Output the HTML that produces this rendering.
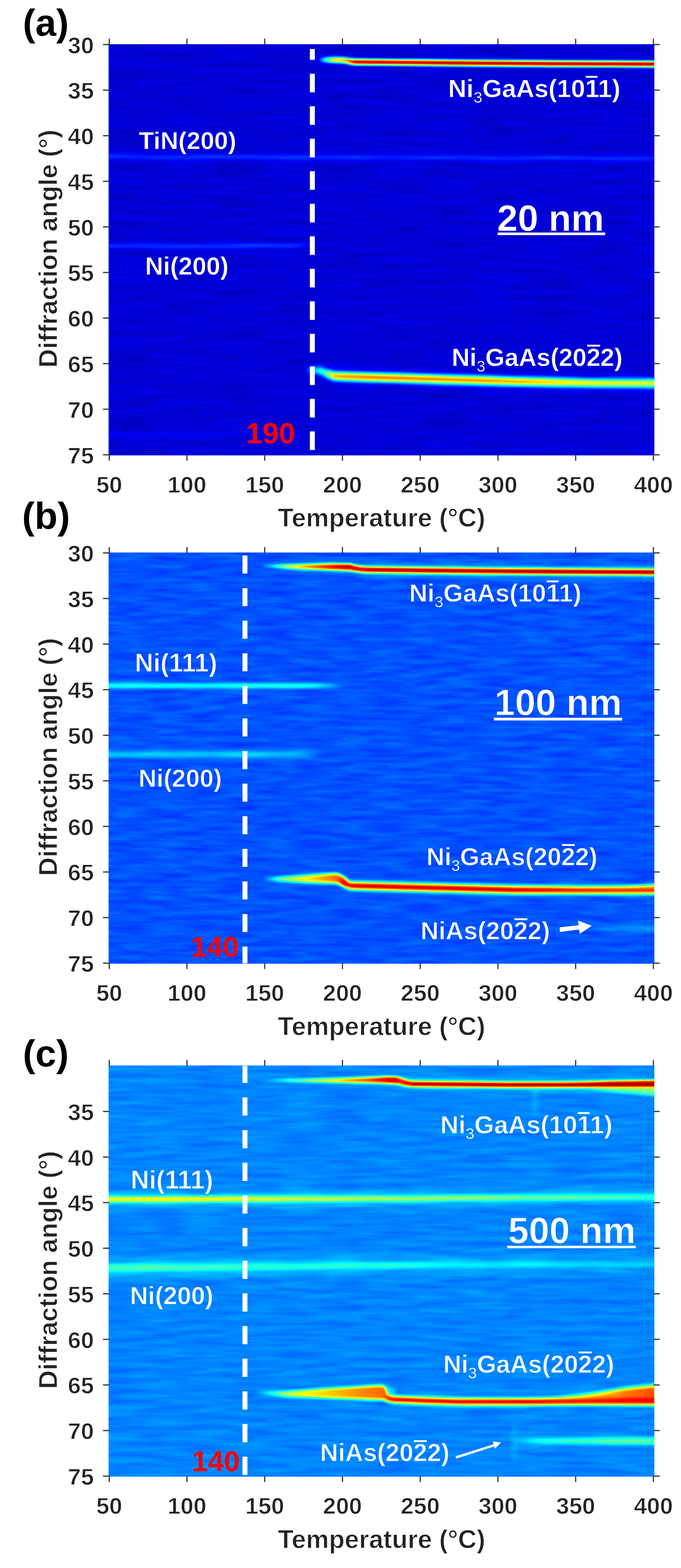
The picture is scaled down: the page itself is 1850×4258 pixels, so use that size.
<!DOCTYPE html><html><head><meta charset="utf-8"><title>XRD heatmaps</title><style>
html,body{margin:0;padding:0;background:#fff;}body{width:1850px;height:4258px;overflow:hidden;}
svg{display:block;}text{font-family:'Liberation Sans', Arial, Helvetica, sans-serif;font-weight:bold;}
</style></head><body>
<svg width="1850" height="4258" viewBox="0 0 1850 4258">
<defs>
<filter id="jet" x="0" y="0" width="1" height="1" color-interpolation-filters="sRGB"><feComponentTransfer><feFuncR type="table" tableValues="0 0 0 0 0.5 1 1 1 0.5"/><feFuncG type="table" tableValues="0 0 0.5 1 1 1 0.5 0 0"/><feFuncB type="table" tableValues="0.5 1 1 1 0.5 0 0 0 0"/></feComponentTransfer></filter>
</defs>
<defs><linearGradient id="g1" gradientUnits="userSpaceOnUse" x1="275" y1="0" x2="1800" y2="0"><stop offset="0.0000" stop-color="#fff" stop-opacity="0.177"/><stop offset="0.4754" stop-color="#fff" stop-opacity="0.166"/><stop offset="1.0000" stop-color="#fff" stop-opacity="0.166"/></linearGradient></defs>
<defs><linearGradient id="g3" gradientUnits="userSpaceOnUse" x1="275" y1="0" x2="850" y2="0"><stop offset="0.0000" stop-color="#fff" stop-opacity="0.188"/><stop offset="0.9130" stop-color="#fff" stop-opacity="0.177"/><stop offset="1.0000" stop-color="#fff" stop-opacity="0.000"/></linearGradient></defs>
<defs><linearGradient id="g5" gradientUnits="userSpaceOnUse" x1="275" y1="0" x2="840" y2="0"><stop offset="0.0000" stop-color="#fff" stop-opacity="0.100"/><stop offset="0.9292" stop-color="#fff" stop-opacity="0.100"/><stop offset="1.0000" stop-color="#fff" stop-opacity="0.000"/></linearGradient></defs>
<defs><linearGradient id="g7" gradientUnits="userSpaceOnUse" x1="864" y1="0" x2="1800" y2="0"><stop offset="0.0000" stop-color="#fff" stop-opacity="0.000"/><stop offset="0.0021" stop-color="#fff" stop-opacity="0.038"/><stop offset="0.0139" stop-color="#fff" stop-opacity="0.249"/><stop offset="0.0224" stop-color="#fff" stop-opacity="0.377"/><stop offset="0.0331" stop-color="#fff" stop-opacity="0.538"/><stop offset="0.0438" stop-color="#fff" stop-opacity="0.622"/><stop offset="0.0491" stop-color="#fff" stop-opacity="0.665"/><stop offset="0.0759" stop-color="#fff" stop-opacity="0.688"/><stop offset="0.0897" stop-color="#fff" stop-opacity="0.808"/><stop offset="0.0919" stop-color="#fff" stop-opacity="0.827"/><stop offset="0.1047" stop-color="#fff" stop-opacity="0.947"/><stop offset="0.1079" stop-color="#fff" stop-opacity="0.977"/><stop offset="0.2521" stop-color="#fff" stop-opacity="0.981"/><stop offset="0.4658" stop-color="#fff" stop-opacity="0.986"/><stop offset="0.6795" stop-color="#fff" stop-opacity="0.992"/><stop offset="1.0000" stop-color="#fff" stop-opacity="1.000"/></linearGradient></defs>
<defs><linearGradient id="g9" gradientUnits="userSpaceOnUse" x1="826" y1="0" x2="1800" y2="0"><stop offset="0.0000" stop-color="#fff" stop-opacity="0.000"/><stop offset="0.0041" stop-color="#fff" stop-opacity="0.088"/><stop offset="0.0195" stop-color="#fff" stop-opacity="0.350"/><stop offset="0.0298" stop-color="#fff" stop-opacity="0.443"/><stop offset="0.0400" stop-color="#fff" stop-opacity="0.532"/><stop offset="0.0472" stop-color="#fff" stop-opacity="0.552"/><stop offset="0.0606" stop-color="#fff" stop-opacity="0.589"/><stop offset="0.0657" stop-color="#fff" stop-opacity="0.661"/><stop offset="0.0821" stop-color="#fff" stop-opacity="0.937"/><stop offset="0.1786" stop-color="#fff" stop-opacity="1.000"/><stop offset="0.2146" stop-color="#fff" stop-opacity="0.996"/><stop offset="0.4867" stop-color="#fff" stop-opacity="0.969"/><stop offset="0.5893" stop-color="#fff" stop-opacity="0.916"/><stop offset="0.6407" stop-color="#fff" stop-opacity="0.890"/><stop offset="0.7947" stop-color="#fff" stop-opacity="0.780"/><stop offset="1.0000" stop-color="#fff" stop-opacity="0.748"/></linearGradient></defs>
<defs><linearGradient id="g11" gradientUnits="userSpaceOnUse" x1="880" y1="0" x2="1800" y2="0"><stop offset="0.0000" stop-color="#fff" stop-opacity="0.000"/><stop offset="0.0283" stop-color="#fff" stop-opacity="0.140"/><stop offset="0.0435" stop-color="#fff" stop-opacity="0.215"/><stop offset="0.5652" stop-color="#fff" stop-opacity="0.215"/><stop offset="1.0000" stop-color="#fff" stop-opacity="0.215"/></linearGradient></defs>
<defs><filter id="na" x="0" y="0" width="1" height="1" color-interpolation-filters="sRGB"><feTurbulence type="fractalNoise" baseFrequency="0.007 0.07" numOctaves="4" seed="3"/><feColorMatrix type="matrix" values="0.06 0 0 0 0.055  0.06 0 0 0 0.055  0.06 0 0 0 0.055  0 0 0 0 1"/></filter><clipPath id="clipa"><rect x="295" y="120" width="1482.5" height="1116.5"/></clipPath></defs>
<g filter="url(#jet)"><g clip-path="url(#clipa)">
<rect x="295" y="120" width="1482.5" height="1116.5" fill="rgb(22,22,22)"/>
<rect x="295" y="120" width="1482.5" height="1116.5" filter="url(#na)"/>
<defs><filter id="f2" filterUnits="userSpaceOnUse" x="249" y="396" width="1577" height="65" color-interpolation-filters="sRGB"><feGaussianBlur stdDeviation="6"/><feComponentTransfer><feFuncA type="linear" slope="1.0000"/></feComponentTransfer></filter></defs>
<path d="M275.0,421.5 L1000.0,424.0 L1800.0,426.5 L1800.0,434.5 L1000.0,432.0 L275.0,429.5 Z" fill="url(#g1)" filter="url(#f2)"/>
<defs><filter id="f4" filterUnits="userSpaceOnUse" x="249" y="638" width="627" height="60" color-interpolation-filters="sRGB"><feGaussianBlur stdDeviation="6"/><feComponentTransfer><feFuncA type="linear" slope="1.0000"/></feComponentTransfer></filter></defs>
<path d="M275.0,663.7 L850.0,663.7 L850.0,671.7 L275.0,671.7 Z" fill="url(#g3)" filter="url(#f4)"/>
<defs><filter id="f6" filterUnits="userSpaceOnUse" x="257" y="1160" width="601" height="40" color-interpolation-filters="sRGB"><feGaussianBlur stdDeviation="4"/><feComponentTransfer><feFuncA type="linear" slope="1.0000"/></feComponentTransfer></filter></defs>
<path d="M275.0,1178.0 L840.0,1178.0 L840.0,1182.0 L275.0,1182.0 Z" fill="url(#g5)" filter="url(#f6)"/>
<defs><filter id="f8" filterUnits="userSpaceOnUse" x="841" y="136" width="984" height="65" color-interpolation-filters="sRGB"><feGaussianBlur stdDeviation="5.7"/><feComponentTransfer><feFuncA type="linear" slope="3.4462"/></feComponentTransfer></filter></defs>
<path d="M866.0,160.5 L885.0,160.5 L905.0,160.8 L935.0,161.5 L948.0,164.0 L962.0,166.3 L1100.0,167.5 L1300.0,169.6 L1500.0,171.0 L1800.0,172.0 L1800.0,176.0 L1500.0,175.0 L1300.0,173.6 L1100.0,171.5 L962.0,170.3 L948.0,168.0 L935.0,165.5 L905.0,164.8 L885.0,164.5 L866.0,164.5 Z" fill="url(#g7)" filter="url(#f8)"/>
<defs><filter id="f10" filterUnits="userSpaceOnUse" x="796" y="967" width="1038" height="113" color-interpolation-filters="sRGB"><feGaussianBlur stdDeviation="8"/><feComponentTransfer><feFuncA type="linear" slope="1.4828"/></feComponentTransfer></filter></defs>
<path d="M830.0,1002.0 L855.0,1001.0 L872.0,1002.5 L890.0,1010.0 L906.0,1016.5 L1035.0,1020.5 L1300.0,1028.0 L1400.0,1030.8 L1600.0,1035.3 L1800.0,1036.0 L1800.0,1046.0 L1600.0,1045.3 L1400.0,1040.8 L1300.0,1038.0 L1035.0,1030.5 L906.0,1026.5 L890.0,1020.0 L872.0,1011.5 L855.0,1009.0 L830.0,1008.0 Z" fill="url(#g9)" filter="url(#f10)"/>
<defs><filter id="f12" filterUnits="userSpaceOnUse" x="822" y="947" width="1036" height="157" color-interpolation-filters="sRGB"><feGaussianBlur stdDeviation="14"/><feComponentTransfer><feFuncA type="linear" slope="1.0000"/></feComponentTransfer></filter></defs>
<path d="M880.0,1005.0 L906.0,1016.5 L1400.0,1030.8 L1800.0,1036.0 L1800.0,1046.0 L1400.0,1040.8 L906.0,1026.5 L880.0,1015.0 Z" fill="url(#g11)" filter="url(#f12)"/>
</g></g>
<defs><linearGradient id="g13" gradientUnits="userSpaceOnUse" x1="710" y1="0" x2="1002" y2="0"><stop offset="0.0000" stop-color="#fff" stop-opacity="0.000"/><stop offset="0.0411" stop-color="#fff" stop-opacity="0.230"/><stop offset="0.1712" stop-color="#fff" stop-opacity="0.438"/><stop offset="0.3082" stop-color="#fff" stop-opacity="0.587"/><stop offset="0.5137" stop-color="#fff" stop-opacity="0.735"/><stop offset="0.7534" stop-color="#fff" stop-opacity="0.884"/><stop offset="0.8459" stop-color="#fff" stop-opacity="0.928"/><stop offset="0.9075" stop-color="#fff" stop-opacity="0.809"/><stop offset="0.9589" stop-color="#fff" stop-opacity="0.512"/><stop offset="1.0000" stop-color="#fff" stop-opacity="0.000"/></linearGradient></defs>
<defs><filter id="bl3_5" x="-50%" y="-50%" width="200%" height="200%" color-interpolation-filters="sRGB"><feGaussianBlur stdDeviation="3.5"/></filter></defs>
<defs><linearGradient id="g14" gradientUnits="userSpaceOnUse" x1="960" y1="0" x2="1800" y2="0"><stop offset="0.0000" stop-color="#fff" stop-opacity="0.000"/><stop offset="0.0179" stop-color="#fff" stop-opacity="0.463"/><stop offset="0.0381" stop-color="#fff" stop-opacity="0.906"/><stop offset="0.0393" stop-color="#fff" stop-opacity="0.912"/><stop offset="0.0536" stop-color="#fff" stop-opacity="0.987"/><stop offset="0.2262" stop-color="#fff" stop-opacity="0.989"/><stop offset="0.5238" stop-color="#fff" stop-opacity="0.993"/><stop offset="1.0000" stop-color="#fff" stop-opacity="1.000"/></linearGradient></defs>
<defs><linearGradient id="g16" gradientUnits="userSpaceOnUse" x1="740" y1="0" x2="1800" y2="0"><stop offset="0.0000" stop-color="#fff" stop-opacity="0.000"/><stop offset="0.0189" stop-color="#fff" stop-opacity="0.048"/><stop offset="0.1132" stop-color="#fff" stop-opacity="0.286"/><stop offset="0.1509" stop-color="#fff" stop-opacity="0.334"/><stop offset="0.2358" stop-color="#fff" stop-opacity="0.442"/><stop offset="0.2387" stop-color="#fff" stop-opacity="0.442"/><stop offset="0.6226" stop-color="#fff" stop-opacity="0.442"/><stop offset="1.0000" stop-color="#fff" stop-opacity="0.442"/></linearGradient></defs>
<defs><linearGradient id="g18" gradientUnits="userSpaceOnUse" x1="275" y1="0" x2="930" y2="0"><stop offset="0.0000" stop-color="#fff" stop-opacity="0.546"/><stop offset="0.8321" stop-color="#fff" stop-opacity="0.546"/><stop offset="0.9237" stop-color="#fff" stop-opacity="0.410"/><stop offset="1.0000" stop-color="#fff" stop-opacity="0.000"/></linearGradient></defs>
<defs><linearGradient id="g20" gradientUnits="userSpaceOnUse" x1="275" y1="0" x2="870" y2="0"><stop offset="0.0000" stop-color="#fff" stop-opacity="0.276"/><stop offset="0.8824" stop-color="#fff" stop-opacity="0.276"/><stop offset="1.0000" stop-color="#fff" stop-opacity="0.000"/></linearGradient></defs>
<defs><linearGradient id="g22" gradientUnits="userSpaceOnUse" x1="710" y1="0" x2="945" y2="0"><stop offset="0.0000" stop-color="#fff" stop-opacity="0.000"/><stop offset="0.0511" stop-color="#fff" stop-opacity="0.171"/><stop offset="0.1957" stop-color="#fff" stop-opacity="0.399"/><stop offset="0.5106" stop-color="#fff" stop-opacity="0.550"/><stop offset="0.8085" stop-color="#fff" stop-opacity="0.690"/><stop offset="0.8766" stop-color="#fff" stop-opacity="0.728"/><stop offset="0.9574" stop-color="#fff" stop-opacity="0.753"/><stop offset="1.0000" stop-color="#fff" stop-opacity="0.500"/></linearGradient></defs>
<defs><filter id="bl4" x="-50%" y="-50%" width="200%" height="200%" color-interpolation-filters="sRGB"><feGaussianBlur stdDeviation="4"/></filter></defs>
<defs><linearGradient id="g23" gradientUnits="userSpaceOnUse" x1="920" y1="0" x2="1800" y2="0"><stop offset="0.0000" stop-color="#fff" stop-opacity="0.725"/><stop offset="0.0057" stop-color="#fff" stop-opacity="0.946"/><stop offset="0.0227" stop-color="#fff" stop-opacity="1.000"/><stop offset="0.0341" stop-color="#fff" stop-opacity="0.838"/><stop offset="0.0568" stop-color="#fff" stop-opacity="0.858"/><stop offset="0.2614" stop-color="#fff" stop-opacity="0.813"/><stop offset="0.5455" stop-color="#fff" stop-opacity="0.806"/><stop offset="0.7500" stop-color="#fff" stop-opacity="0.741"/><stop offset="0.7727" stop-color="#fff" stop-opacity="0.731"/><stop offset="1.0000" stop-color="#fff" stop-opacity="0.677"/></linearGradient></defs>
<defs><linearGradient id="g25" gradientUnits="userSpaceOnUse" x1="1680" y1="0" x2="1800" y2="0"><stop offset="0.0000" stop-color="#fff" stop-opacity="0.000"/><stop offset="1.0000" stop-color="#fff" stop-opacity="0.644"/></linearGradient></defs>
<defs><filter id="bl5" x="-50%" y="-50%" width="200%" height="200%" color-interpolation-filters="sRGB"><feGaussianBlur stdDeviation="5"/></filter></defs>
<defs><linearGradient id="g26" gradientUnits="userSpaceOnUse" x1="1590" y1="0" x2="1800" y2="0"><stop offset="0.0000" stop-color="#fff" stop-opacity="0.000"/><stop offset="0.2857" stop-color="#fff" stop-opacity="0.155"/><stop offset="0.5238" stop-color="#fff" stop-opacity="0.157"/><stop offset="1.0000" stop-color="#fff" stop-opacity="0.191"/></linearGradient></defs>
<defs><filter id="nb" x="0" y="0" width="1" height="1" color-interpolation-filters="sRGB"><feTurbulence type="fractalNoise" baseFrequency="0.01 0.07" numOctaves="3" seed="7"/><feColorMatrix type="matrix" values="0.085 0 0 0 0.1625  0.085 0 0 0 0.1625  0.085 0 0 0 0.1625  0 0 0 0 1"/></filter><clipPath id="clipb"><rect x="295" y="1500.5" width="1482.5" height="1116.5"/></clipPath></defs>
<g filter="url(#jet)"><g clip-path="url(#clipb)">
<rect x="295" y="1500.5" width="1482.5" height="1116.5" fill="rgb(52,52,52)"/>
<rect x="295" y="1500.5" width="1482.5" height="1116.5" filter="url(#nb)"/>
<path d="M714.0,1536.0 L740.0,1535.0 L778.0,1533.5 L860.0,1532.0 L903.0,1531.0 L950.0,1531.5 L965.0,1536.0 L985.0,1541.0 L1002.0,1543.5 L1002.0,1551.0 L985.0,1552.0 L965.0,1551.0 L950.0,1548.5 L903.0,1547.5 L860.0,1546.0 L778.0,1543.0 L740.0,1540.0 L714.0,1538.0 Z" fill="url(#g13)" filter="url(#bl3_5)"/>
<defs><filter id="f15" filterUnits="userSpaceOnUse" x="925" y="1513" width="900" height="68" color-interpolation-filters="sRGB"><feGaussianBlur stdDeviation="5.8"/><feComponentTransfer><feFuncA type="linear" slope="2.8094"/></feComponentTransfer></filter></defs>
<path d="M950.0,1538.5 L975.0,1542.5 L993.0,1544.5 L1150.0,1546.5 L1400.0,1549.0 L1800.0,1551.5 L1800.0,1556.5 L1400.0,1554.0 L1150.0,1551.5 L993.0,1549.5 L975.0,1547.5 L950.0,1543.5 Z" fill="url(#g14)" filter="url(#f15)"/>
<defs><filter id="f17" filterUnits="userSpaceOnUse" x="706" y="1480" width="1148" height="132" color-interpolation-filters="sRGB"><feGaussianBlur stdDeviation="13"/><feComponentTransfer><feFuncA type="linear" slope="1.0000"/></feComponentTransfer></filter></defs>
<path d="M760.0,1534.0 L900.0,1535.5 L993.0,1543.0 L1400.0,1547.5 L1800.0,1550.0 L1800.0,1558.0 L1400.0,1555.5 L993.0,1551.0 L900.0,1543.5 L760.0,1542.0 Z" fill="url(#g16)" filter="url(#f17)"/>
<defs><filter id="f19" filterUnits="userSpaceOnUse" x="251" y="1835" width="703" height="54" color-interpolation-filters="sRGB"><feGaussianBlur stdDeviation="5.5"/><feComponentTransfer><feFuncA type="linear" slope="1.0000"/></feComponentTransfer></filter></defs>
<path d="M275.0,1859.0 L930.0,1859.0 L930.0,1865.0 L275.0,1865.0 Z" fill="url(#g18)" filter="url(#f19)"/>
<defs><filter id="f21" filterUnits="userSpaceOnUse" x="245" y="2014" width="655" height="70" color-interpolation-filters="sRGB"><feGaussianBlur stdDeviation="7"/><feComponentTransfer><feFuncA type="linear" slope="1.0000"/></feComponentTransfer></filter></defs>
<path d="M275.0,2043.5 L870.0,2043.5 L870.0,2053.5 L275.0,2053.5 Z" fill="url(#g20)" filter="url(#f21)"/>
<path d="M714.0,2386.0 L740.0,2384.0 L770.0,2381.0 L830.0,2377.0 L903.0,2372.0 L916.0,2372.0 L930.0,2378.0 L945.0,2392.0 L945.0,2410.0 L930.0,2403.0 L916.0,2399.0 L903.0,2398.0 L830.0,2397.0 L770.0,2394.0 L740.0,2391.0 L714.0,2388.0 Z" fill="url(#g22)" filter="url(#bl4)"/>
<defs><filter id="f24" filterUnits="userSpaceOnUse" x="895" y="2360" width="935" height="95" color-interpolation-filters="sRGB"><feGaussianBlur stdDeviation="7"/><feComponentTransfer><feFuncA type="linear" slope="1.5436"/></feComponentTransfer></filter></defs>
<path d="M925.0,2390.0 L950.0,2398.5 L1150.0,2403.2 L1400.0,2409.5 L1580.0,2410.5 L1800.0,2410.0 L1800.0,2425.0 L1580.0,2424.5 L1400.0,2423.5 L1150.0,2417.2 L950.0,2411.5 L925.0,2396.0 Z" fill="url(#g23)" filter="url(#f24)"/>
<path d="M1680.0,2410.0 L1800.0,2402.0 L1800.0,2412.0 L1680.0,2412.0 Z" fill="url(#g25)" filter="url(#bl5)"/>
<defs><filter id="f27" filterUnits="userSpaceOnUse" x="1564" y="2491" width="262" height="60" color-interpolation-filters="sRGB"><feGaussianBlur stdDeviation="6"/><feComponentTransfer><feFuncA type="linear" slope="1.0000"/></feComponentTransfer></filter></defs>
<path d="M1590.0,2518.0 L1700.0,2517.0 L1800.0,2517.0 L1800.0,2525.0 L1700.0,2525.0 L1590.0,2524.0 Z" fill="url(#g26)" filter="url(#f27)"/>
</g></g>
<defs><linearGradient id="g28" gradientUnits="userSpaceOnUse" x1="700" y1="0" x2="1120" y2="0"><stop offset="0.0000" stop-color="#fff" stop-opacity="0.000"/><stop offset="0.0476" stop-color="#fff" stop-opacity="0.156"/><stop offset="0.2095" stop-color="#fff" stop-opacity="0.393"/><stop offset="0.4762" stop-color="#fff" stop-opacity="0.571"/><stop offset="0.7143" stop-color="#fff" stop-opacity="0.749"/><stop offset="0.8333" stop-color="#fff" stop-opacity="0.868"/><stop offset="0.8976" stop-color="#fff" stop-opacity="0.898"/><stop offset="0.9524" stop-color="#fff" stop-opacity="0.660"/><stop offset="1.0000" stop-color="#fff" stop-opacity="0.067"/></linearGradient></defs>
<defs><filter id="bl3_6" x="-50%" y="-50%" width="200%" height="200%" color-interpolation-filters="sRGB"><feGaussianBlur stdDeviation="3.6"/></filter></defs>
<defs><linearGradient id="g29" gradientUnits="userSpaceOnUse" x1="1085" y1="0" x2="1800" y2="0"><stop offset="0.0000" stop-color="#fff" stop-opacity="0.066"/><stop offset="0.0280" stop-color="#fff" stop-opacity="0.796"/><stop offset="0.0462" stop-color="#fff" stop-opacity="0.919"/><stop offset="0.0559" stop-color="#fff" stop-opacity="0.985"/><stop offset="0.2308" stop-color="#fff" stop-opacity="0.988"/><stop offset="0.4406" stop-color="#fff" stop-opacity="0.991"/><stop offset="0.9021" stop-color="#fff" stop-opacity="0.998"/><stop offset="1.0000" stop-color="#fff" stop-opacity="1.000"/></linearGradient></defs>
<defs><linearGradient id="g31" gradientUnits="userSpaceOnUse" x1="1060" y1="0" x2="1800" y2="0"><stop offset="0.0000" stop-color="#fff" stop-opacity="0.000"/><stop offset="0.0135" stop-color="#fff" stop-opacity="0.078"/><stop offset="0.0541" stop-color="#fff" stop-opacity="0.312"/><stop offset="0.4595" stop-color="#fff" stop-opacity="0.329"/><stop offset="1.0000" stop-color="#fff" stop-opacity="0.353"/></linearGradient></defs>
<defs><linearGradient id="g33" gradientUnits="userSpaceOnUse" x1="1540" y1="0" x2="1800" y2="0"><stop offset="0.0000" stop-color="#fff" stop-opacity="0.110"/><stop offset="0.4231" stop-color="#fff" stop-opacity="0.847"/><stop offset="1.0000" stop-color="#fff" stop-opacity="1.000"/></linearGradient></defs>
<defs><linearGradient id="g34" gradientUnits="userSpaceOnUse" x1="1560" y1="0" x2="1800" y2="0"><stop offset="0.0000" stop-color="#fff" stop-opacity="0.007"/><stop offset="0.3750" stop-color="#fff" stop-opacity="0.288"/><stop offset="1.0000" stop-color="#fff" stop-opacity="0.345"/></linearGradient></defs>
<defs><linearGradient id="g35" gradientUnits="userSpaceOnUse" x1="275" y1="0" x2="1800" y2="0"><stop offset="0.0000" stop-color="#fff" stop-opacity="0.443"/><stop offset="0.1475" stop-color="#fff" stop-opacity="0.443"/><stop offset="0.3443" stop-color="#fff" stop-opacity="0.373"/><stop offset="0.5082" stop-color="#fff" stop-opacity="0.316"/><stop offset="0.7377" stop-color="#fff" stop-opacity="0.246"/><stop offset="0.9344" stop-color="#fff" stop-opacity="0.190"/><stop offset="1.0000" stop-color="#fff" stop-opacity="0.162"/></linearGradient></defs>
<defs><linearGradient id="g37" gradientUnits="userSpaceOnUse" x1="275" y1="0" x2="1800" y2="0"><stop offset="0.0000" stop-color="#fff" stop-opacity="0.121"/><stop offset="0.1475" stop-color="#fff" stop-opacity="0.117"/><stop offset="0.5082" stop-color="#fff" stop-opacity="0.107"/><stop offset="0.9344" stop-color="#fff" stop-opacity="0.082"/><stop offset="1.0000" stop-color="#fff" stop-opacity="0.078"/></linearGradient></defs>
<defs><linearGradient id="g39" gradientUnits="userSpaceOnUse" x1="275" y1="0" x2="1800" y2="0"><stop offset="0.0000" stop-color="#fff" stop-opacity="0.196"/><stop offset="0.0820" stop-color="#fff" stop-opacity="0.196"/><stop offset="0.5082" stop-color="#fff" stop-opacity="0.145"/><stop offset="0.9344" stop-color="#fff" stop-opacity="0.057"/><stop offset="1.0000" stop-color="#fff" stop-opacity="0.041"/></linearGradient></defs>
<defs><linearGradient id="g41" gradientUnits="userSpaceOnUse" x1="275" y1="0" x2="1800" y2="0"><stop offset="0.0000" stop-color="#fff" stop-opacity="0.105"/><stop offset="0.0820" stop-color="#fff" stop-opacity="0.101"/><stop offset="0.5082" stop-color="#fff" stop-opacity="0.079"/><stop offset="0.9344" stop-color="#fff" stop-opacity="0.056"/><stop offset="1.0000" stop-color="#fff" stop-opacity="0.052"/></linearGradient></defs>
<defs><linearGradient id="g43" gradientUnits="userSpaceOnUse" x1="690" y1="0" x2="1062" y2="0"><stop offset="0.0000" stop-color="#fff" stop-opacity="0.000"/><stop offset="0.0538" stop-color="#fff" stop-opacity="0.197"/><stop offset="0.2366" stop-color="#fff" stop-opacity="0.442"/><stop offset="0.5645" stop-color="#fff" stop-opacity="0.578"/><stop offset="0.8333" stop-color="#fff" stop-opacity="0.673"/><stop offset="0.9516" stop-color="#fff" stop-opacity="0.700"/><stop offset="1.0000" stop-color="#fff" stop-opacity="0.605"/></linearGradient></defs>
<defs><linearGradient id="g44" gradientUnits="userSpaceOnUse" x1="1040" y1="0" x2="1074" y2="0"><stop offset="0.0000" stop-color="#fff" stop-opacity="0.148"/><stop offset="1.0000" stop-color="#fff" stop-opacity="0.105"/></linearGradient></defs>
<defs><linearGradient id="g45" gradientUnits="userSpaceOnUse" x1="1045" y1="0" x2="1800" y2="0"><stop offset="0.0000" stop-color="#fff" stop-opacity="0.831"/><stop offset="0.0066" stop-color="#fff" stop-opacity="1.000"/><stop offset="0.0265" stop-color="#fff" stop-opacity="0.963"/><stop offset="0.1391" stop-color="#fff" stop-opacity="0.970"/><stop offset="0.2715" stop-color="#fff" stop-opacity="0.978"/><stop offset="0.5364" stop-color="#fff" stop-opacity="0.994"/><stop offset="0.7351" stop-color="#fff" stop-opacity="0.763"/><stop offset="1.0000" stop-color="#fff" stop-opacity="0.562"/></linearGradient></defs>
<defs><linearGradient id="g47" gradientUnits="userSpaceOnUse" x1="1450" y1="0" x2="1800" y2="0"><stop offset="0.0000" stop-color="#fff" stop-opacity="0.061"/><stop offset="0.2857" stop-color="#fff" stop-opacity="0.401"/><stop offset="0.4943" stop-color="#fff" stop-opacity="0.578"/><stop offset="0.7143" stop-color="#fff" stop-opacity="0.686"/><stop offset="1.0000" stop-color="#fff" stop-opacity="0.741"/></linearGradient></defs>
<defs><filter id="bl6" x="-50%" y="-50%" width="200%" height="200%" color-interpolation-filters="sRGB"><feGaussianBlur stdDeviation="6"/></filter></defs>
<defs><linearGradient id="g48" gradientUnits="userSpaceOnUse" x1="1380" y1="0" x2="1800" y2="0"><stop offset="0.0000" stop-color="#fff" stop-opacity="0.000"/><stop offset="0.0238" stop-color="#fff" stop-opacity="0.041"/><stop offset="0.1667" stop-color="#fff" stop-opacity="0.216"/><stop offset="0.2857" stop-color="#fff" stop-opacity="0.257"/><stop offset="0.4048" stop-color="#fff" stop-opacity="0.323"/><stop offset="1.0000" stop-color="#fff" stop-opacity="0.337"/></linearGradient></defs>
<defs><filter id="bl7" x="-50%" y="-50%" width="200%" height="200%" color-interpolation-filters="sRGB"><feGaussianBlur stdDeviation="7"/></filter></defs>
<defs><filter id="nc" x="0" y="0" width="1" height="1" color-interpolation-filters="sRGB"><feTurbulence type="fractalNoise" baseFrequency="0.008 0.07" numOctaves="3" seed="11"/><feColorMatrix type="matrix" values="0.075 0 0 0 0.2175  0.075 0 0 0 0.2175  0.075 0 0 0 0.2175  0 0 0 0 1"/></filter><clipPath id="clipc"><rect x="295" y="2893.5" width="1482.5" height="1116.5"/></clipPath></defs>
<g filter="url(#jet)"><g clip-path="url(#clipc)">
<rect x="295" y="2893.5" width="1482.5" height="1116.5" fill="rgb(65,65,65)"/>
<rect x="295" y="2893.5" width="1482.5" height="1116.5" filter="url(#nc)"/>
<path d="M705.0,2933.0 L788.0,2931.0 L921.0,2928.5 L1054.0,2923.5 L1077.0,2924.0 L1100.0,2931.0 L1120.0,2937.0 L1120.0,2949.0 L1100.0,2946.0 L1077.0,2943.0 L1054.0,2942.0 L921.0,2939.5 L788.0,2937.0 L705.0,2935.0 Z" fill="url(#g28)" filter="url(#bl3_6)"/>
<defs><filter id="f30" filterUnits="userSpaceOnUse" x="1061" y="2912" width="763" height="60" color-interpolation-filters="sRGB"><feGaussianBlur stdDeviation="5.5"/><feComponentTransfer><feFuncA type="linear" slope="2.6228"/></feComponentTransfer></filter></defs>
<path d="M1085.0,2936.5 L1118.0,2941.1 L1250.0,2942.3 L1400.0,2943.5 L1730.0,2943.0 L1800.0,2943.0 L1800.0,2948.0 L1730.0,2948.0 L1400.0,2948.5 L1250.0,2947.3 L1118.0,2946.1 L1085.0,2941.5 Z" fill="url(#g29)" filter="url(#f30)"/>
<defs><filter id="f32" filterUnits="userSpaceOnUse" x="1020" y="2884" width="830" height="117" color-interpolation-filters="sRGB"><feGaussianBlur stdDeviation="12"/><feComponentTransfer><feFuncA type="linear" slope="1.0000"/></feComponentTransfer></filter></defs>
<path d="M1070.0,2934.0 L1400.0,2941.0 L1800.0,2940.5 L1800.0,2950.5 L1400.0,2951.0 L1070.0,2944.0 Z" fill="url(#g31)" filter="url(#f32)"/>
<path d="M1540.0,2941.0 L1650.0,2937.0 L1800.0,2934.0 L1800.0,2944.0 L1540.0,2944.0 Z" fill="url(#g33)" filter="url(#bl4)"/>
<path d="M1560.0,2952.0 L1800.0,2955.0 L1800.0,2976.0 L1650.0,2962.0 L1560.0,2953.0 Z" fill="url(#g34)" filter="url(#bl5)"/>
<defs><filter id="f36" filterUnits="userSpaceOnUse" x="259" y="3228" width="1557" height="52" color-interpolation-filters="sRGB"><feGaussianBlur stdDeviation="3.5"/><feComponentTransfer><feFuncA type="linear" slope="1.0000"/></feComponentTransfer></filter></defs>
<path d="M275.0,3250.0 L500.0,3249.6 L1050.0,3248.0 L1700.0,3244.0 L1800.0,3243.5 L1800.0,3257.5 L1700.0,3258.0 L1050.0,3262.0 L500.0,3263.6 L275.0,3264.0 Z" fill="url(#g35)" filter="url(#f36)"/>
<defs><filter id="f38" filterUnits="userSpaceOnUse" x="237" y="3196" width="1601" height="116" color-interpolation-filters="sRGB"><feGaussianBlur stdDeviation="9"/><feComponentTransfer><feFuncA type="linear" slope="1.0000"/></feComponentTransfer></filter></defs>
<path d="M275.0,3240.0 L500.0,3239.6 L1050.0,3238.0 L1700.0,3234.0 L1800.0,3233.5 L1800.0,3267.5 L1700.0,3268.0 L1050.0,3272.0 L500.0,3273.6 L275.0,3274.0 Z" fill="url(#g37)" filter="url(#f38)"/>
<defs><filter id="f40" filterUnits="userSpaceOnUse" x="255" y="3406" width="1565" height="66" color-interpolation-filters="sRGB"><feGaussianBlur stdDeviation="4.5"/><feComponentTransfer><feFuncA type="linear" slope="1.0000"/></feComponentTransfer></filter></defs>
<path d="M275.0,3435.5 L400.0,3435.0 L1050.0,3429.0 L1700.0,3426.5 L1800.0,3426.0 L1800.0,3438.0 L1700.0,3438.5 L1050.0,3443.0 L400.0,3451.0 L275.0,3451.5 Z" fill="url(#g39)" filter="url(#f40)"/>
<defs><filter id="f42" filterUnits="userSpaceOnUse" x="229" y="3368" width="1617" height="144" color-interpolation-filters="sRGB"><feGaussianBlur stdDeviation="11"/><feComponentTransfer><feFuncA type="linear" slope="1.0000"/></feComponentTransfer></filter></defs>
<path d="M275.0,3421.5 L400.0,3421.0 L1050.0,3416.0 L1700.0,3414.5 L1800.0,3414.0 L1800.0,3450.0 L1700.0,3450.5 L1050.0,3456.0 L400.0,3465.0 L275.0,3465.5 Z" fill="url(#g41)" filter="url(#f42)"/>
<path d="M694.0,3780.0 L778.0,3778.0 L900.0,3770.0 L1000.0,3764.0 L1036.0,3762.0 L1046.0,3766.0 L1054.0,3788.0 L1062.0,3794.0 L1062.0,3806.0 L1054.0,3802.0 L1040.0,3801.0 L1000.0,3800.0 L900.0,3797.0 L778.0,3792.0 L694.0,3782.0 Z" fill="url(#g43)" filter="url(#bl4)"/>
<path d="M1040.0,3764.0 L1074.0,3768.0 L1074.0,3790.0 L1040.0,3790.0 Z" fill="url(#g44)" filter="url(#bl5)"/>
<defs><filter id="f46" filterUnits="userSpaceOnUse" x="1023" y="3766" width="804" height="73" color-interpolation-filters="sRGB"><feGaussianBlur stdDeviation="6.3"/><feComponentTransfer><feFuncA type="linear" slope="1.5217"/></feComponentTransfer></filter></defs>
<path d="M1050.0,3793.0 L1065.0,3795.3 L1150.0,3798.5 L1250.0,3801.5 L1450.0,3801.4 L1800.0,3800.0 L1800.0,3810.0 L1450.0,3811.4 L1250.0,3811.5 L1150.0,3808.5 L1065.0,3805.3 L1050.0,3799.0 Z" fill="url(#g45)" filter="url(#f46)"/>
<path d="M1450.0,3800.0 L1550.0,3791.0 L1623.0,3782.0 L1700.0,3770.0 L1800.0,3760.0 L1800.0,3814.0 L1600.0,3811.0 L1450.0,3808.0 Z" fill="url(#g47)" filter="url(#bl6)"/>
<defs><filter id="f49" filterUnits="userSpaceOnUse" x="1364" y="3879" width="462" height="68" color-interpolation-filters="sRGB"><feGaussianBlur stdDeviation="6"/><feComponentTransfer><feFuncA type="linear" slope="1.0000"/></feComponentTransfer></filter></defs>
<path d="M1390.0,3909.0 L1500.0,3906.0 L1800.0,3905.0 L1800.0,3921.0 L1500.0,3920.0 L1390.0,3917.0 Z" fill="url(#g48)" filter="url(#f49)"/>
<rect x="1444" y="2950" width="18" height="75" fill="#fff" fill-opacity="0.05" filter="url(#bl7)"/>
<rect x="1390" y="3870" width="14" height="100" fill="#fff" fill-opacity="0.05" filter="url(#bl7)"/>
</g></g>
<g stroke="#333" stroke-width="3.2"><line x1="296.8" y1="1235" x2="296.8" y2="1251"/><line x1="296.8" y1="105" x2="296.8" y2="121"/><line x1="507.971" y1="1235" x2="507.971" y2="1251"/><line x1="507.971" y1="105" x2="507.971" y2="121"/><line x1="719.143" y1="1235" x2="719.143" y2="1251"/><line x1="719.143" y1="105" x2="719.143" y2="121"/><line x1="930.314" y1="1235" x2="930.314" y2="1251"/><line x1="930.314" y1="105" x2="930.314" y2="121"/><line x1="1141.49" y1="1235" x2="1141.49" y2="1251"/><line x1="1141.49" y1="105" x2="1141.49" y2="121"/><line x1="1352.66" y1="1235" x2="1352.66" y2="1251"/><line x1="1352.66" y1="105" x2="1352.66" y2="121"/><line x1="1563.83" y1="1235" x2="1563.83" y2="1251"/><line x1="1563.83" y1="105" x2="1563.83" y2="121"/><line x1="1775" y1="1235" x2="1775" y2="1251"/><line x1="1775" y1="105" x2="1775" y2="121"/><line x1="279.8" y1="121" x2="296.8" y2="121"/><line x1="1775" y1="121" x2="1792" y2="121"/><line x1="279.8" y1="244.778" x2="296.8" y2="244.778"/><line x1="1775" y1="244.778" x2="1792" y2="244.778"/><line x1="279.8" y1="368.556" x2="296.8" y2="368.556"/><line x1="1775" y1="368.556" x2="1792" y2="368.556"/><line x1="279.8" y1="492.333" x2="296.8" y2="492.333"/><line x1="1775" y1="492.333" x2="1792" y2="492.333"/><line x1="279.8" y1="616.111" x2="296.8" y2="616.111"/><line x1="1775" y1="616.111" x2="1792" y2="616.111"/><line x1="279.8" y1="739.889" x2="296.8" y2="739.889"/><line x1="1775" y1="739.889" x2="1792" y2="739.889"/><line x1="279.8" y1="863.667" x2="296.8" y2="863.667"/><line x1="1775" y1="863.667" x2="1792" y2="863.667"/><line x1="279.8" y1="987.444" x2="296.8" y2="987.444"/><line x1="1775" y1="987.444" x2="1792" y2="987.444"/><line x1="279.8" y1="1111.22" x2="296.8" y2="1111.22"/><line x1="1775" y1="1111.22" x2="1792" y2="1111.22"/><line x1="279.8" y1="1235" x2="296.8" y2="1235"/><line x1="1775" y1="1235" x2="1792" y2="1235"/></g>
<g font-size="63.5" fill="#222" stroke="#fff" stroke-width="1.3"><text x="296.8" y="1337.5" text-anchor="middle">50</text><text x="507.971" y="1337.5" text-anchor="middle">100</text><text x="719.143" y="1337.5" text-anchor="middle">150</text><text x="930.314" y="1337.5" text-anchor="middle">200</text><text x="1141.49" y="1337.5" text-anchor="middle">250</text><text x="1352.66" y="1337.5" text-anchor="middle">300</text><text x="1563.83" y="1337.5" text-anchor="middle">350</text><text x="1775" y="1337.5" text-anchor="middle">400</text><text x="255" y="144.5" text-anchor="end">30</text><text x="255" y="268.278" text-anchor="end">35</text><text x="255" y="392.056" text-anchor="end">40</text><text x="255" y="515.833" text-anchor="end">45</text><text x="255" y="639.611" text-anchor="end">50</text><text x="255" y="763.389" text-anchor="end">55</text><text x="255" y="887.167" text-anchor="end">60</text><text x="255" y="1010.94" text-anchor="end">65</text><text x="255" y="1134.72" text-anchor="end">70</text><text x="255" y="1258.5" text-anchor="end">75</text></g>
<text x="1036.5" y="1430" font-size="70" fill="#222" stroke="#fff" stroke-width="1.3" text-anchor="middle">Temperature (°C)</text>
<text transform="translate(155,675) rotate(-90)" font-size="70" fill="#222" stroke="#fff" stroke-width="1.3" text-anchor="middle">Diffraction angle (°)</text>
<g stroke="#333" stroke-width="3.2"><line x1="296.8" y1="2615.5" x2="296.8" y2="2631.5"/><line x1="296.8" y1="1485.5" x2="296.8" y2="1501.5"/><line x1="507.971" y1="2615.5" x2="507.971" y2="2631.5"/><line x1="507.971" y1="1485.5" x2="507.971" y2="1501.5"/><line x1="719.143" y1="2615.5" x2="719.143" y2="2631.5"/><line x1="719.143" y1="1485.5" x2="719.143" y2="1501.5"/><line x1="930.314" y1="2615.5" x2="930.314" y2="2631.5"/><line x1="930.314" y1="1485.5" x2="930.314" y2="1501.5"/><line x1="1141.49" y1="2615.5" x2="1141.49" y2="2631.5"/><line x1="1141.49" y1="1485.5" x2="1141.49" y2="1501.5"/><line x1="1352.66" y1="2615.5" x2="1352.66" y2="2631.5"/><line x1="1352.66" y1="1485.5" x2="1352.66" y2="1501.5"/><line x1="1563.83" y1="2615.5" x2="1563.83" y2="2631.5"/><line x1="1563.83" y1="1485.5" x2="1563.83" y2="1501.5"/><line x1="1775" y1="2615.5" x2="1775" y2="2631.5"/><line x1="1775" y1="1485.5" x2="1775" y2="1501.5"/><line x1="279.8" y1="1501.5" x2="296.8" y2="1501.5"/><line x1="1775" y1="1501.5" x2="1792" y2="1501.5"/><line x1="279.8" y1="1625.28" x2="296.8" y2="1625.28"/><line x1="1775" y1="1625.28" x2="1792" y2="1625.28"/><line x1="279.8" y1="1749.06" x2="296.8" y2="1749.06"/><line x1="1775" y1="1749.06" x2="1792" y2="1749.06"/><line x1="279.8" y1="1872.83" x2="296.8" y2="1872.83"/><line x1="1775" y1="1872.83" x2="1792" y2="1872.83"/><line x1="279.8" y1="1996.61" x2="296.8" y2="1996.61"/><line x1="1775" y1="1996.61" x2="1792" y2="1996.61"/><line x1="279.8" y1="2120.39" x2="296.8" y2="2120.39"/><line x1="1775" y1="2120.39" x2="1792" y2="2120.39"/><line x1="279.8" y1="2244.17" x2="296.8" y2="2244.17"/><line x1="1775" y1="2244.17" x2="1792" y2="2244.17"/><line x1="279.8" y1="2367.94" x2="296.8" y2="2367.94"/><line x1="1775" y1="2367.94" x2="1792" y2="2367.94"/><line x1="279.8" y1="2491.72" x2="296.8" y2="2491.72"/><line x1="1775" y1="2491.72" x2="1792" y2="2491.72"/><line x1="279.8" y1="2615.5" x2="296.8" y2="2615.5"/><line x1="1775" y1="2615.5" x2="1792" y2="2615.5"/></g>
<g font-size="63.5" fill="#222" stroke="#fff" stroke-width="1.3"><text x="296.8" y="2718" text-anchor="middle">50</text><text x="507.971" y="2718" text-anchor="middle">100</text><text x="719.143" y="2718" text-anchor="middle">150</text><text x="930.314" y="2718" text-anchor="middle">200</text><text x="1141.49" y="2718" text-anchor="middle">250</text><text x="1352.66" y="2718" text-anchor="middle">300</text><text x="1563.83" y="2718" text-anchor="middle">350</text><text x="1775" y="2718" text-anchor="middle">400</text><text x="255" y="1525" text-anchor="end">30</text><text x="255" y="1648.78" text-anchor="end">35</text><text x="255" y="1772.56" text-anchor="end">40</text><text x="255" y="1896.33" text-anchor="end">45</text><text x="255" y="2020.11" text-anchor="end">50</text><text x="255" y="2143.89" text-anchor="end">55</text><text x="255" y="2267.67" text-anchor="end">60</text><text x="255" y="2391.44" text-anchor="end">65</text><text x="255" y="2515.22" text-anchor="end">70</text><text x="255" y="2639" text-anchor="end">75</text></g>
<text x="1036.5" y="2810.5" font-size="70" fill="#222" stroke="#fff" stroke-width="1.3" text-anchor="middle">Temperature (°C)</text>
<text transform="translate(155,2055.5) rotate(-90)" font-size="70" fill="#222" stroke="#fff" stroke-width="1.3" text-anchor="middle">Diffraction angle (°)</text>
<g stroke="#333" stroke-width="3.2"><line x1="296.8" y1="4008.5" x2="296.8" y2="4024.5"/><line x1="296.8" y1="2878.5" x2="296.8" y2="2894.5"/><line x1="507.971" y1="4008.5" x2="507.971" y2="4024.5"/><line x1="507.971" y1="2878.5" x2="507.971" y2="2894.5"/><line x1="719.143" y1="4008.5" x2="719.143" y2="4024.5"/><line x1="719.143" y1="2878.5" x2="719.143" y2="2894.5"/><line x1="930.314" y1="4008.5" x2="930.314" y2="4024.5"/><line x1="930.314" y1="2878.5" x2="930.314" y2="2894.5"/><line x1="1141.49" y1="4008.5" x2="1141.49" y2="4024.5"/><line x1="1141.49" y1="2878.5" x2="1141.49" y2="2894.5"/><line x1="1352.66" y1="4008.5" x2="1352.66" y2="4024.5"/><line x1="1352.66" y1="2878.5" x2="1352.66" y2="2894.5"/><line x1="1563.83" y1="4008.5" x2="1563.83" y2="4024.5"/><line x1="1563.83" y1="2878.5" x2="1563.83" y2="2894.5"/><line x1="1775" y1="4008.5" x2="1775" y2="4024.5"/><line x1="1775" y1="2878.5" x2="1775" y2="2894.5"/><line x1="279.8" y1="3018.28" x2="296.8" y2="3018.28"/><line x1="1775" y1="3018.28" x2="1792" y2="3018.28"/><line x1="279.8" y1="3142.06" x2="296.8" y2="3142.06"/><line x1="1775" y1="3142.06" x2="1792" y2="3142.06"/><line x1="279.8" y1="3265.83" x2="296.8" y2="3265.83"/><line x1="1775" y1="3265.83" x2="1792" y2="3265.83"/><line x1="279.8" y1="3389.61" x2="296.8" y2="3389.61"/><line x1="1775" y1="3389.61" x2="1792" y2="3389.61"/><line x1="279.8" y1="3513.39" x2="296.8" y2="3513.39"/><line x1="1775" y1="3513.39" x2="1792" y2="3513.39"/><line x1="279.8" y1="3637.17" x2="296.8" y2="3637.17"/><line x1="1775" y1="3637.17" x2="1792" y2="3637.17"/><line x1="279.8" y1="3760.94" x2="296.8" y2="3760.94"/><line x1="1775" y1="3760.94" x2="1792" y2="3760.94"/><line x1="279.8" y1="3884.72" x2="296.8" y2="3884.72"/><line x1="1775" y1="3884.72" x2="1792" y2="3884.72"/><line x1="279.8" y1="4008.5" x2="296.8" y2="4008.5"/><line x1="1775" y1="4008.5" x2="1792" y2="4008.5"/></g>
<g font-size="63.5" fill="#222" stroke="#fff" stroke-width="1.3"><text x="296.8" y="4111" text-anchor="middle">50</text><text x="507.971" y="4111" text-anchor="middle">100</text><text x="719.143" y="4111" text-anchor="middle">150</text><text x="930.314" y="4111" text-anchor="middle">200</text><text x="1141.49" y="4111" text-anchor="middle">250</text><text x="1352.66" y="4111" text-anchor="middle">300</text><text x="1563.83" y="4111" text-anchor="middle">350</text><text x="1775" y="4111" text-anchor="middle">400</text><text x="255" y="3041.78" text-anchor="end">35</text><text x="255" y="3165.56" text-anchor="end">40</text><text x="255" y="3289.33" text-anchor="end">45</text><text x="255" y="3413.11" text-anchor="end">50</text><text x="255" y="3536.89" text-anchor="end">55</text><text x="255" y="3660.67" text-anchor="end">60</text><text x="255" y="3784.44" text-anchor="end">65</text><text x="255" y="3908.22" text-anchor="end">70</text><text x="255" y="4032" text-anchor="end">75</text></g>
<text x="1036.5" y="4203.5" font-size="70" fill="#222" stroke="#fff" stroke-width="1.3" text-anchor="middle">Temperature (°C)</text>
<text transform="translate(155,3448.5) rotate(-90)" font-size="70" fill="#222" stroke="#fff" stroke-width="1.3" text-anchor="middle">Diffraction angle (°)</text>
<g font-size="102" fill="#000"><text x="62" y="97">(a)</text><text x="60" y="1435.5">(b)</text><text x="62" y="2896">(c)</text></g>
<line x1="848.5" y1="133" x2="848.5" y2="1236" stroke="#fff" stroke-width="13.5" stroke-dasharray="50.5 37.8" stroke-dashoffset="21.1"/>
<line x1="665.4" y1="1501.5" x2="665.4" y2="2616" stroke="#fff" stroke-width="13.5" stroke-dasharray="49 39.5" stroke-dashoffset="-7"/>
<line x1="665.4" y1="2894.5" x2="665.4" y2="4009" stroke="#fff" stroke-width="13.5" stroke-dasharray="49.5 39.2" stroke-dashoffset="3.2"/>
<text id="t1" x="1217.5" y="263.6" font-size="68.9" fill="#fff" stroke="rgb(0,0,215)" stroke-width="0.8">Ni<tspan font-size="42.718" font-weight="normal" stroke-width="0.3" dy="15.5">3</tspan><tspan dy="-15.5">GaAs(1011)</tspan></text>
<rect x="1591.2" y="206.1" width="32.0" height="5" fill="#fff"/>
<text x="377" y="405" font-size="67.5" fill="#fff" stroke="rgb(0,0,215)" stroke-width="0.8">TiN(200)</text>
<text x="394.2" y="745.5" font-size="68" fill="#fff" stroke="rgb(0,0,215)" stroke-width="0.8">Ni(200)</text>
<text x="1350.5" y="626.5" font-size="100.5" fill="#fff" stroke="rgb(0,0,215)" stroke-width="0.8">20 nm</text>
<rect x="1351.8" y="631.5" width="292.2" height="7" fill="#fff"/>
<text id="t2" x="1227.1" y="993.6" font-size="67.8" fill="#fff" stroke="rgb(0,0,215)" stroke-width="0.8">Ni<tspan font-size="42.036" font-weight="normal" stroke-width="0.3" dy="15.5">3</tspan><tspan dy="-15.5">GaAs(2022)</tspan></text>
<rect x="1594.9" y="936.1" width="35.2" height="5" fill="#fff"/>
<text x="668.6" y="1203.7" font-size="80" fill="#ff0000">190</text>
<text id="t3" x="1111.5" y="1633.8" font-size="68.9" fill="#fff" stroke="rgb(0,80,255)" stroke-width="1.3">Ni<tspan font-size="42.718" font-weight="normal" stroke-width="0.3" dy="15.5">3</tspan><tspan dy="-15.5">GaAs(1011)</tspan></text>
<rect x="1485.2" y="1576.3" width="32.0" height="5" fill="#fff"/>
<text x="366.2" y="1823.7" font-size="69.5" fill="#fff" stroke="rgb(0,80,255)" stroke-width="1.3">Ni(111)</text>
<text x="1343" y="1941.6" font-size="100.5" fill="#fff" stroke="rgb(0,80,255)" stroke-width="1.3">100 nm</text>
<rect x="1341.5" y="1949" width="348.5" height="7.5" fill="#fff"/>
<text x="376.2" y="2136.7" font-size="68" fill="#fff" stroke="rgb(0,80,255)" stroke-width="1.3">Ni(200)</text>
<text id="t4" x="1158.5" y="2349.7" font-size="67.8" fill="#fff" stroke="rgb(0,80,255)" stroke-width="1.3">Ni<tspan font-size="42.036" font-weight="normal" stroke-width="0.3" dy="15.5">3</tspan><tspan dy="-15.5">GaAs(2022)</tspan></text>
<rect x="1526.3" y="2292.2" width="35.2" height="5" fill="#fff"/>
<text id="t5" x="1142.6" y="2551.2" font-size="68" fill="#fff" stroke="rgb(0,80,255)" stroke-width="1.3">NiAs(2022)</text>
<rect x="1397.3" y="2493.7" width="35.3" height="5" fill="#fff"/>
<path d="M1520.5,2518 L1572,2512.5 L1570.5,2500 L1607.5,2514 L1575,2536 L1573,2524 L1521,2531 Z" fill="#fff"/>
<text x="518.3" y="2598.4" font-size="78" fill="#ff0000">140</text>
<text id="t6" x="1195.9" y="3077.7" font-size="68.9" fill="#fff" stroke="rgb(0,135,255)" stroke-width="1.3">Ni<tspan font-size="42.718" font-weight="normal" stroke-width="0.3" dy="15.5">3</tspan><tspan dy="-15.5">GaAs(1011)</tspan></text>
<rect x="1569.6" y="3020.2" width="32.0" height="5" fill="#fff"/>
<text x="355" y="3228" font-size="69.5" fill="#fff" stroke="rgb(0,135,255)" stroke-width="1.3">Ni(111)</text>
<text x="1380.5" y="3376" font-size="100.5" fill="#fff" stroke="rgb(0,135,255)" stroke-width="1.3">500 nm</text>
<rect x="1378" y="3383" width="349" height="6.6" fill="#fff"/>
<text x="353" y="3542" font-size="68" fill="#fff" stroke="rgb(0,135,255)" stroke-width="1.3">Ni(200)</text>
<text id="t7" x="1204.2" y="3727.7" font-size="67.8" fill="#fff" stroke="rgb(0,135,255)" stroke-width="1.3">Ni<tspan font-size="42.036" font-weight="normal" stroke-width="0.3" dy="15.5">3</tspan><tspan dy="-15.5">GaAs(2022)</tspan></text>
<rect x="1572.0" y="3670.2" width="35.2" height="5" fill="#fff"/>
<text id="t8" x="869.6" y="3968.4" font-size="68" fill="#fff" stroke="rgb(0,135,255)" stroke-width="1.3">NiAs(2022)</text>
<rect x="1124.3" y="3910.9" width="35.3" height="5" fill="#fff"/>
<path d="M1238.6,3957.9 L1341.4,3925" stroke="#fff" stroke-width="6.5" stroke-linecap="butt" fill="none"/>
<path d="M1338.6,3914.3 L1361.4,3917.1 L1344.3,3934.3 Z" fill="#fff"/>
<text x="521.3" y="3994.7" font-size="78" fill="#ff0000">140</text>
</svg></body></html>
